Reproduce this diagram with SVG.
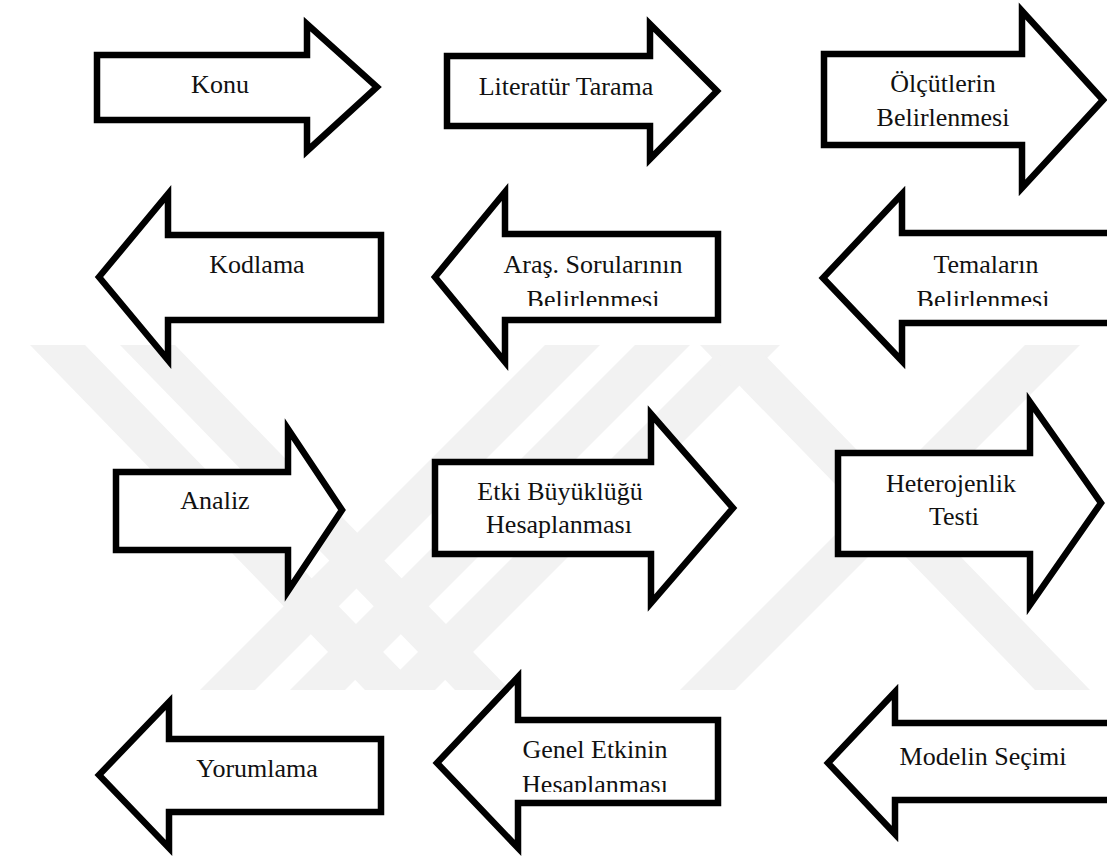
<svg xmlns="http://www.w3.org/2000/svg" width="1107" height="861" viewBox="0 0 1107 861">
<style>
.arrow{fill:#fff;stroke:#000;stroke-width:6.5;stroke-linejoin:miter}
.lbl{font-family:"Liberation Serif","Times New Roman",serif;font-size:26px;fill:#111;text-anchor:middle}
.wm{fill:#f2f2f2}
</style>
<defs>
<clipPath id="c5"><rect x="500" y="240" width="220" height="66"/></clipPath>
<clipPath id="c6"><rect x="890" y="240" width="217" height="66"/></clipPath>
<clipPath id="c11"><rect x="510" y="720" width="210" height="72"/></clipPath>
</defs>
<rect width="1107" height="861" fill="#fff"/>
<g id="watermark">
<polygon class="wm" points="30,345 85,345 420,690 365,690"/>
<polygon class="wm" points="120,345 175,345 510,690 455,690"/>
<polygon class="wm" points="200,690 255,690 600,345 545,345"/>
<polygon class="wm" points="290,690 345,690 690,345 635,345"/>
<polygon class="wm" points="380,690 435,690 780,345 725,345"/>
<polygon class="wm" points="700,345 755,345 1090,690 1035,690"/>
<polygon class="wm" points="1080,345 1025,345 680,690 735,690"/>
</g>
<g id="connectors"></g>
<g id="n1"><polygon class="arrow" points="97,55 307,55 307,24 377,87 307,151 307,120 97,120"/><text class="lbl" x="220" y="93">Konu</text></g>
<g id="n2"><polygon class="arrow" points="447,56 650,56 650,24 717,91 650,159 650,126 447,126"/><text class="lbl" x="566" y="95">Literatür Tarama</text></g>
<g id="n3"><polygon class="arrow" points="824,54 1022,54 1022,11 1103,100 1022,188 1022,145 824,145"/><text class="lbl" x="943" y="92">Ölçütlerin</text><text class="lbl" x="943" y="126">Belirlenmesi</text></g>
<g id="n4"><polygon class="arrow" points="99,277 168,194 168,235 381,235 381,320 168,320 168,360"/><text class="lbl" x="257" y="273">Kodlama</text></g>
<g id="n5"><polygon class="arrow" points="435,277 505,192 505,234 718,234 718,320 505,320 505,362"/><text class="lbl" x="593" y="273">Araş. Sorularının</text><text class="lbl" x="593" y="308" clip-path="url(#c5)">Belirlenmesi</text></g>
<g id="n6"><polygon class="arrow" points="823,278 902,194 902,233 1115,233 1115,323 902,323 902,361"/><text class="lbl" x="986" y="273">Temaların</text><text class="lbl" x="983" y="308" clip-path="url(#c6)">Belirlenmesi</text></g>
<g id="n7"><polygon class="arrow" points="116,472 288,472 288,429 342,510 288,591 288,550 116,550"/><text class="lbl" x="215" y="509">Analiz</text></g>
<g id="n8"><polygon class="arrow" points="435,462 651,462 651,414 733,508 651,603 651,554 435,554"/><text class="lbl" x="560" y="500">Etki Büyüklüğü</text><text class="lbl" x="559" y="533">Hesaplanması</text></g>
<g id="n9"><polygon class="arrow" points="838,453 1030,453 1030,402 1101,503 1030,605 1030,554 838,554"/><text class="lbl" x="951" y="492">Heterojenlik</text><text class="lbl" x="954" y="525">Testi</text></g>
<g id="n10"><polygon class="arrow" points="99,775 169,702 169,739 381,739 381,812 169,812 169,848"/><text class="lbl" x="257" y="777">Yorumlama</text></g>
<g id="n11"><polygon class="arrow" points="437,763 518,677 518,720 718,720 718,803 518,803 518,848"/><text class="lbl" x="595" y="758">Genel Etkinin</text><text class="lbl" x="595" y="793" clip-path="url(#c11)">Hesaplanması</text></g>
<g id="n12"><polygon class="arrow" points="828,763 895,692 895,723 1115,723 1115,800 895,800 895,834"/><text class="lbl" x="983" y="765">Modelin Seçimi</text></g>
</svg>
